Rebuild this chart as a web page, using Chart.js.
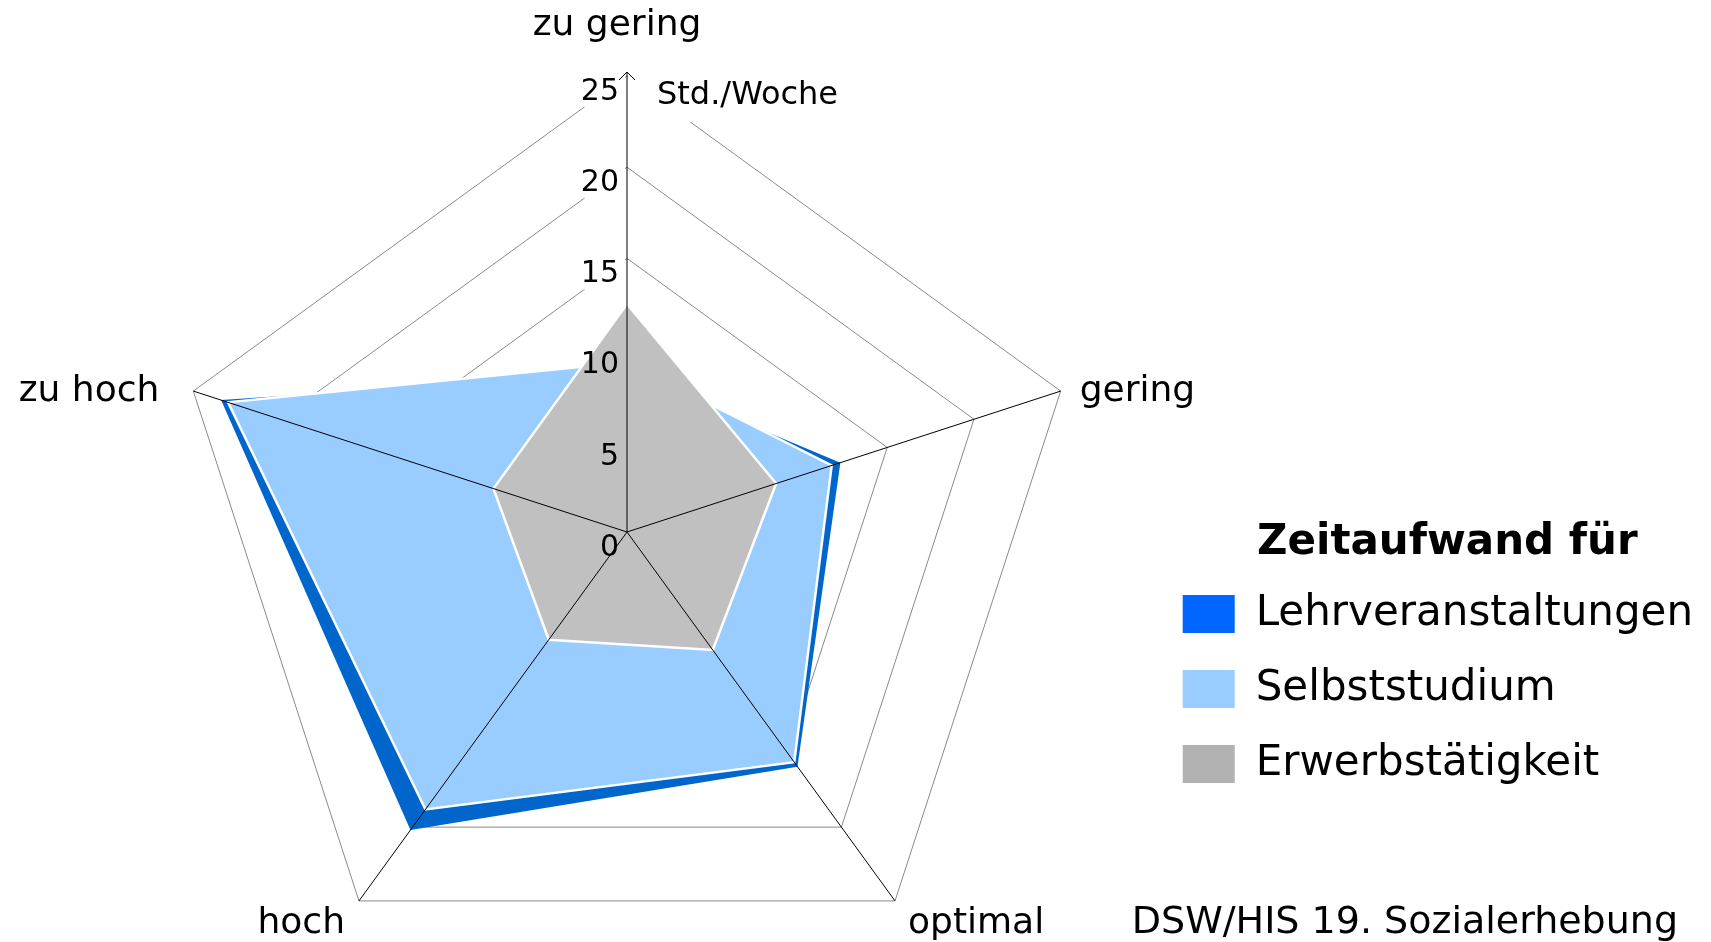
<!DOCTYPE html>
<html>
<head>
<meta charset="utf-8">
<script src="https://cdn.jsdelivr.net/npm/chart.js@4/dist/chart.umd.min.js"></script>
<style>
  html, body { margin: 0; padding: 0; background: #fff; overflow: hidden; }
  #wrap { width: 1711px; height: 942px; }
</style>
</head>
<body>
<div id="wrap"><canvas id="radarChart" width="1711" height="942"></canvas></div>
<script>
// values (hours per week)
const categories = ['zu gering', 'gering', 'optimal', 'hoch', 'zu hoch'];
const seriesNames = ['Lehrveranstaltungen', 'Selbststudium', 'Erwerbstätigkeit'];
const lehrveranstaltungen = [8.7, 12.3, 15.9, 20.2, 23.4];
const selbststudium = [9.3, 11.8, 15.6, 18.8, 23.0];
const erwerbstaetigkeit = [12.5, 8.6, 8.0, 7.3, 7.7];
const tickValues = [0, 5, 10, 15, 20, 25];
const unitLabel = 'Std./Woche';
const legendTitle = 'Zeitaufwand für';
const sourceText = 'DSW/HIS 19. Sozialerhebung';

const fillColors = ['#0066CC', '#99CCFF', '#C0C0C0'];
const legendColors = ['#0066FF', '#99CCFF', '#B2B2B2'];
const FONT = '"DejaVu Sans", Verdana, sans-serif';

Chart.defaults.font.family = FONT;
Chart.defaults.color = '#000';

// offsets of the category labels from the outer vertex: dx, dy, align
const labelPlace = [
    [-10, -41, 'center'],
    [19, 10, 'left'],
    [13, 32, 'left'],
    [-14, 32, 'right'],
    [-34, 10, 'right']
];

const overlay = {
    id: 'overlay',
    beforeDatasetsDraw(chart) {
        const s = chart.scales.r;
        const ctx = chart.ctx;
        ctx.save();
        ctx.fillStyle = '#fff';
        ctx.font = '30px ' + FONT;
        tickValues.forEach(function (v) {
            if (v === 0) return;
            const p = s.getPointPositionForValue(0, v);
            const w = ctx.measureText(String(v)).width;
            ctx.fillRect(p.x - w - 11, p.y, w + 9, 31);
        });
        ctx.font = '32px ' + FONT;
        const top = s.getPointPositionForValue(0, 25);
        const uw = ctx.measureText(unitLabel).width;
        ctx.fillRect(top.x + 1, top.y, uw + 34, 46);
        ctx.restore();
    },
    afterDatasetsDraw(chart) {
        const s = chart.scales.r;
        const ctx = chart.ctx;
        const cx = s.xCenter, cy = s.yCenter;
        ctx.save();

        // axis lines on top of the areas
        ctx.strokeStyle = '#000';
        ctx.lineWidth = 1;
        categories.forEach(function (c, i) {
            const p = s.getPointPositionForValue(i, 25);
            ctx.beginPath();
            ctx.moveTo(cx, cy);
            ctx.lineTo(p.x, i === 0 ? p.y - 4 : p.y);
            ctx.stroke();
        });
        const top = s.getPointPositionForValue(0, 25);
        ctx.beginPath();
        ctx.moveTo(top.x - 8, top.y + 4);
        ctx.lineTo(top.x, top.y - 4);
        ctx.lineTo(top.x + 8, top.y + 4);
        ctx.stroke();

        // tick labels
        ctx.fillStyle = '#000';
        ctx.font = '30px ' + FONT;
        ctx.textAlign = 'right';
        ctx.textBaseline = 'top';
        tickValues.forEach(function (v) {
            const p = s.getPointPositionForValue(0, v);
            ctx.fillText(String(v), p.x - 8, p.y + 1);
        });

        // unit
        ctx.font = '32px ' + FONT;
        ctx.textAlign = 'left';
        ctx.textBaseline = 'alphabetic';
        ctx.fillText(unitLabel, top.x + 30, top.y + 28);

        // category labels
        ctx.font = '36px ' + FONT;
        categories.forEach(function (c, i) {
            const p = s.getPointPositionForValue(i, 25);
            const pl = labelPlace[i];
            ctx.textAlign = pl[2];
            ctx.fillText(c, p.x + pl[0], p.y + pl[1]);
        });
        ctx.restore();
    },
    afterDraw(chart) {
        const ctx = chart.ctx;
        ctx.save();
        ctx.fillStyle = '#000';
        ctx.font = '38px ' + FONT;
        ctx.textAlign = 'right';
        ctx.textBaseline = 'alphabetic';
        ctx.fillText(sourceText, 1678, 933);
        ctx.restore();
    }
};

new Chart(document.getElementById('radarChart'), {
    type: 'radar',
    data: {
        labels: categories,
        datasets: [{
            label: seriesNames[0],
            data: lehrveranstaltungen,
            backgroundColor: fillColors[0],
            borderColor: fillColors[0],
            borderWidth: 0,
            fill: true,
            clip: false,
            order: 3
        }, {
            label: seriesNames[1],
            data: selbststudium,
            backgroundColor: fillColors[1],
            borderColor: '#ffffff',
            borderWidth: 2.5,
            fill: true,
            clip: false,
            order: 2
        }, {
            label: seriesNames[2],
            data: erwerbstaetigkeit,
            backgroundColor: fillColors[2],
            borderColor: '#ffffff',
            borderWidth: 2.5,
            fill: true,
            clip: false,
            order: 1
        }]
    },
    options: {
        responsive: false,
        animation: false,
        events: [],
        layout: { padding: { top: 0, right: 8, bottom: 0, left: 0 } },
        elements: {
            point: { radius: 0, hoverRadius: 0 },
            line: { tension: 0, borderJoinStyle: 'miter' }
        },
        scales: {
            r: {
                min: 0,
                max: 25,
                ticks: { stepSize: 5, display: false },
                grid: { color: '#8a8a8a', lineWidth: 1 },
                angleLines: { display: false },
                pointLabels: { display: false },
                afterFit: function (scale) {
                    scale.xCenter = 627;
                    scale.yCenter = 532;
                    scale.drawingArea = 456;
                }
            }
        },
        plugins: {
            tooltip: { enabled: false },
            legend: {
                position: 'right',
                align: 'center',
                title: {
                    display: true,
                    // leading em space nudges the centred title right, as in the original
                    text: '\u2003' + legendTitle,
                    position: 'center',
                    color: '#000',
                    font: { size: 42, weight: 'bold', lineHeight: 1 },
                    padding: { top: 398, bottom: -4 }
                },
                labels: {
                    boxWidth: 52,
                    boxHeight: 38,
                    padding: 33,
                    color: '#000',
                    font: { size: 42 },
                    generateLabels: function () {
                        return seriesNames.map(function (n, i) {
                            return {
                                text: n,
                                fillStyle: legendColors[i],
                                strokeStyle: legendColors[i],
                                lineWidth: 0,
                                hidden: false,
                                datasetIndex: i
                            };
                        });
                    }
                }
            }
        }
    },
    plugins: [overlay]
});
</script>
</body>
</html>
